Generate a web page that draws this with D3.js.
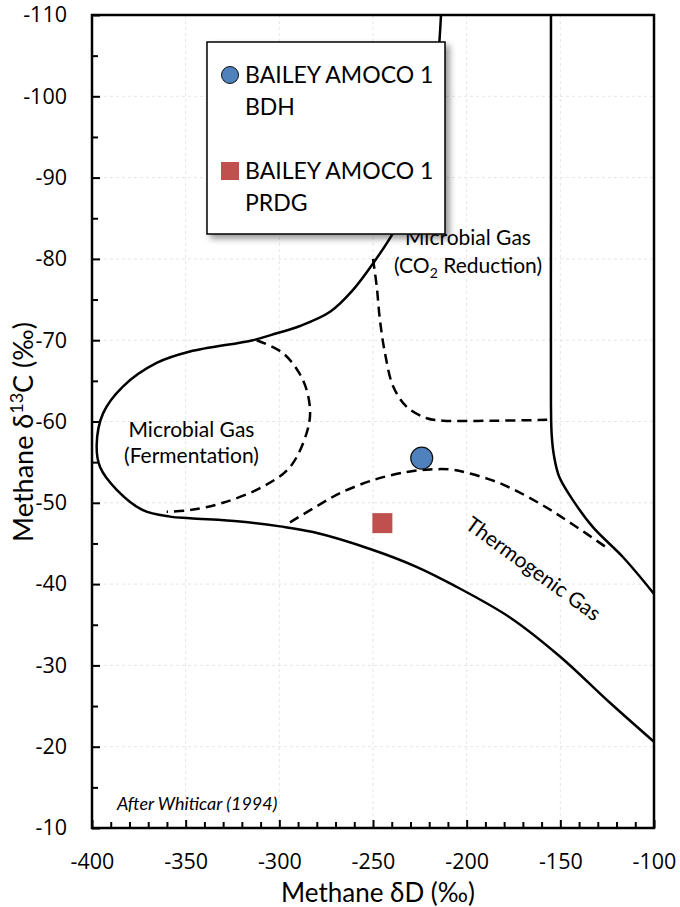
<!DOCTYPE html>
<html>
<head>
<meta charset="utf-8">
<script src="https://d3js.org/d3.v7.min.js"></script>
<style>
  body { margin: 0; background: #fff; }
  text { font-family: Lato, "Open Sans", sans-serif; fill: #000; }
</style>
</head>
<body>
<div id="chart"></div>
<script>
// tick labels
var xTicks = [-400, -350, -300, -250, -200, -150, -100];
var yTicks = [-110, -100, -90, -80, -70, -60, -50, -40, -30, -20, -10];

// field boundaries after Whiticar (1994) as [dD, d13C]
var outerBoundary = [[-213.7,-110],[-215.3,-104.5],[-219.6,-95.9],[-227.6,-88.5],[-239.0,-83.3],
  [-249.8,-79.5],[-261.0,-76.1],[-272.9,-73.5],[-289.0,-71.75],[-301.4,-70.85],[-314.1,-70.0],
  [-347.7,-68.6],[-365.5,-67.2],[-383.5,-64.3],[-394.1,-61.0],[-397.5,-57.1],[-395.7,-54.4],
  [-386.8,-51.6],[-372.8,-49.1],[-358.4,-48.3],[-347.7,-48.1],[-321.0,-47.7],[-299.6,-47.1],
  [-282.0,-46.4],[-250,-44.2],[-226.5,-42.1],[-207.3,-39.9],[-176.9,-35.9],[-150.2,-31.1],
  [-123.5,-25.4],[-100,-20.6]];
var rightBoundary = [[-155,-110],[-155,-85],[-155,-62],[-154.6,-58.3],[-153.4,-55.8],[-150.6,-53.2],
  [-143.2,-50.3],[-132.6,-47.0],[-116.5,-43.3],[-100,-38.8]];
var fermentationLine = [[-312.1,-70.0],[-298.0,-68.4],[-287.4,-65.1],[-283.6,-61.4],[-285.4,-58.6],
  [-294.3,-54.4],[-308.7,-52.0],[-330.1,-50.0],[-347.7,-49.1],[-360.1,-48.9]];
var co2Line = [[-250,-80],[-248.0,-76.6],[-246.3,-72.5],[-243.6,-68.4],[-239.2,-64.3],[-232.0,-61.8],
  [-221.3,-60.4],[-212.6,-60.1],[-185,-60.1],[-157,-60.2]];
var thermoLine = [[-294.3,-47.6],[-274.7,-50.3],[-267.6,-51.2],[-249.8,-52.8],[-232.0,-53.8],
  [-219.6,-54.1],[-208.9,-54.1],[-200.0,-53.7],[-182.2,-52.4],[-160.9,-49.9],[-143.1,-47.3],[-123.5,-44.2]];

// samples
var sampleLabels = [["BAILEY AMOCO 1", "BDH"], ["BAILEY AMOCO 1", "PRDG"]];
var sampleDD = [-224, -245];
var sampleC13 = [-55.5, -47.5];
var sampleColors = ["#4f81bd", "#c0504d"];

var W = 680, H = 907;
var margin = {top: 15, right: 26, bottom: 79, left: 92},
    width = W - margin.left - margin.right,
    height = H - margin.top - margin.bottom;

var svg = d3.select("#chart")
  .append("svg")
    .attr("width", W)
    .attr("height", H);

var defs = svg.append("defs");
var f = defs.append("filter").attr("id", "shadow")
  .attr("x", "-10%").attr("y", "-10%").attr("width", "130%").attr("height", "130%");
f.append("feDropShadow").attr("dx", 4).attr("dy", 4).attr("stdDeviation", 3)
  .attr("flood-color", "#000").attr("flood-opacity", 0.4);

var g = svg.append("g")
  .attr("transform", "translate(" + margin.left + "," + margin.top + ")");

var x = d3.scaleLinear().domain([-400, -100]).range([0, width]);
var y = d3.scaleLinear().domain([-110, -10]).range([0, height]);

// light gridlines
g.append("g").attr("class", "grid")
  .selectAll("line").data(xTicks.slice(1, -1)).enter().append("line")
    .attr("x1", function(d) { return x(d); }).attr("x2", function(d) { return x(d); })
    .attr("y1", 0).attr("y2", height);
g.append("g").attr("class", "grid")
  .selectAll("line").data(yTicks.slice(1, -1)).enter().append("line")
    .attr("y1", function(d) { return y(d); }).attr("y2", function(d) { return y(d); })
    .attr("x1", 0).attr("x2", width);
g.selectAll(".grid line")
  .attr("stroke", "#e6e6e6").attr("stroke-width", 1).attr("stroke-dasharray", "3,3");

// minor ticks
var xMinor = d3.range(-390, -100, 10).filter(function(d) { return d % 50 != 0; });
var yMinor = d3.range(-105, -10, 10);

g.append("g")
  .attr("transform", "translate(0," + height + ")")
  .call(d3.axisBottom(x).tickValues(xMinor).tickSizeInner(-6).tickSizeOuter(0).tickFormat(""));
g.append("g")
  .call(d3.axisLeft(y).tickValues(yMinor).tickSizeInner(-6).tickSizeOuter(0).tickFormat(""));

// major ticks + labels
g.append("g")
  .attr("class", "xaxis")
  .attr("transform", "translate(0," + height + ")")
  .call(d3.axisBottom(x).tickValues(xTicks).tickSizeInner(-8).tickSizeOuter(0)
    .tickPadding(26).tickFormat(function(d) { return String(d); }));
g.append("g")
  .attr("class", "yaxis")
  .call(d3.axisLeft(y).tickValues(yTicks).tickSizeInner(-8).tickSizeOuter(0)
    .tickPadding(25).tickFormat(function(d) { return String(d); }));

g.selectAll(".domain").remove();
g.selectAll(".tick line").attr("stroke", "#000").attr("stroke-width", 2);
g.selectAll(".tick text")
  .style("font-family", "'Open Sans'").style("font-size", "21.5px")
  .attr("fill", "#000");

// boundary curves
var line = d3.line()
  .x(function(d) { return x(d[0]); })
  .y(function(d) { return y(d[1]); })
  .curve(d3.curveCatmullRom.alpha(0.5));

[outerBoundary, rightBoundary].forEach(function(c) {
  g.append("path").datum(c)
    .attr("fill", "none").attr("stroke", "#000").attr("stroke-width", 2.5)
    .attr("d", line);
});
[fermentationLine, co2Line, thermoLine].forEach(function(c) {
  g.append("path").datum(c)
    .attr("fill", "none").attr("stroke", "#000").attr("stroke-width", 2.5)
    .attr("stroke-dasharray", "10,6")
    .attr("d", line);
});

// field labels
var lab = g.append("g").style("font-size", "21px");
lab.append("text").attr("x", x(-199.3)).attr("y", y(-81.7)).attr("text-anchor", "middle").text("Microbial Gas");
var co2 = lab.append("text").attr("x", x(-199.3)).attr("y", y(-78.3)).attr("text-anchor", "middle");
co2.append("tspan").text("(CO");
co2.append("tspan").attr("dy", 5).style("font-size", "14px").text("2");
co2.append("tspan").attr("dy", -5).text(" Reduction)");
lab.append("text").attr("x", x(-346.9)).attr("y", y(-58.1)).attr("text-anchor", "middle").text("Microbial Gas");
lab.append("text").attr("x", x(-346.9)).attr("y", y(-54.9)).attr("text-anchor", "middle").text("(Fermentation)");
lab.append("text")
  .attr("transform", "translate(" + x(-164.4) + "," + y(-41.9) + ") rotate(36)")
  .attr("text-anchor", "middle").attr("dy", "0.35em")
  .text("Thermogenic Gas");
g.append("text").attr("x", x(-386.7)).attr("y", y(-12.2))
  .style("font-size", "18px").style("font-style", "italic").attr("fill", "#333")
  .text("After Whiticar (1994)");

// frame
g.append("rect").attr("width", width).attr("height", height)
  .attr("fill", "none").attr("stroke", "#000").attr("stroke-width", 2.5);

// samples
g.append("circle")
  .attr("cx", x(sampleDD[0])).attr("cy", y(sampleC13[0])).attr("r", 11)
  .attr("fill", sampleColors[0]).attr("stroke", "#111").attr("stroke-width", 1.2);
g.append("rect")
  .attr("x", x(sampleDD[1]) - 10).attr("y", y(sampleC13[1]) - 10)
  .attr("width", 20).attr("height", 20)
  .attr("fill", sampleColors[1]);

// legend
var legend = svg.append("g").attr("transform", "translate(207,42)");
legend.append("rect").attr("width", 238).attr("height", 192)
  .attr("fill", "#fff").attr("stroke", "#000").attr("stroke-width", 1.5)
  .attr("filter", "url(#shadow)");
sampleLabels.forEach(function(lines, i) {
  var row = legend.append("g").attr("transform", "translate(0," + (i * 96) + ")");
  if (i == 0) {
    row.append("circle").attr("cx", 23).attr("cy", 33).attr("r", 8.5)
      .attr("fill", sampleColors[i]).attr("stroke", "#111").attr("stroke-width", 1);
  } else {
    row.append("rect").attr("x", 14).attr("y", 24).attr("width", 18).attr("height", 18)
      .attr("fill", sampleColors[i]);
  }
  lines.forEach(function(t, j) {
    row.append("text").attr("x", 38).attr("y", 41 + j * 32)
      .style("font-size", "23px").text(t);
  });
});

// axis titles
svg.append("text")
  .attr("x", 378).attr("y", 902)
  .attr("text-anchor", "middle")
  .style("font-size", "26px")
  .text("Methane \u03B4D (\u2030)");

var yt = svg.append("text")
  .attr("transform", "translate(33,432) rotate(-90)")
  .attr("text-anchor", "middle")
  .style("font-size", "27px");
yt.append("tspan").text("Methane \u03B4");
yt.append("tspan").attr("dy", -10).style("font-size", "18px").text("13");
yt.append("tspan").attr("dy", 10).text("C (\u2030)");
</script>
</body>
</html>
